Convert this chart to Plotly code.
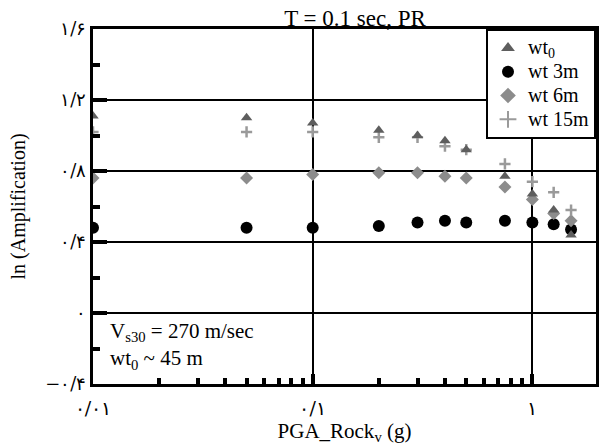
import plotly.graph_objects as go

# ---- data ----
pga = [0.01, 0.05, 0.1, 0.2, 0.3, 0.4, 0.5, 0.75, 1.0, 1.25, 1.5]
wt0 = [1.11, 1.10, 1.07, 1.03, 1.00, 0.97, 0.92, 0.77, 0.67, 0.58, 0.44]
wt3 = [0.48, 0.48, 0.48, 0.49, 0.51, 0.52, 0.51, 0.52, 0.51, 0.50, 0.47]
wt6 = [0.76, 0.76, 0.78, 0.79, 0.79, 0.77, 0.76, 0.71, 0.64, 0.56, 0.52]
wt15 = [1.02, 1.02, 1.02, 0.99, 0.99, 0.94, 0.92, 0.84, 0.74, 0.68, 0.58]

x_tickvals = [0.01, 0.1, 1]
x_ticktext = ["۰/۰۱", "۰/۱", "۱"]
x_minor = [0.02, 0.03, 0.04, 0.05, 0.06, 0.07, 0.08, 0.09,
           0.2, 0.3, 0.4, 0.5, 0.6, 0.7, 0.8, 0.9, 2]
y_tickvals = [-0.4, 0, 0.4, 0.8, 1.2, 1.6]
y_ticktext = ["−۰/۴", "۰", "۰/۴", "۰/۸", "۱/۲", "۱/۶"]
y_minor = [-0.2, 0.2, 0.6, 1.0, 1.4]

FONT = "Liberation Serif, Times New Roman, serif"


def big(s):
    return '<span style="font-size:20px">' + s + '</span>'


fig = go.Figure()
fig.add_trace(go.Scatter(x=pga, y=wt3, mode="markers", name=big("wt 3m"),
                         marker=dict(symbol="circle", size=12, color="black")))
fig.add_trace(go.Scatter(x=pga, y=wt6, mode="markers", name=big("wt 6m"),
                         marker=dict(symbol="diamond", size=10, color="#8c8c8c")))
fig.add_trace(go.Scatter(x=pga, y=wt15, mode="markers", name=big("wt 15m"),
                         marker=dict(symbol="cross-thin", size=8, color="#9a9a9a",
                                     line=dict(width=2.5, color="#9a9a9a"))))
fig.add_trace(go.Scatter(x=pga, y=wt0, mode="markers", name=big("wt<sub>0</sub>"),
                         marker=dict(symbol="triangle-up", size=10, color="#5e5e5e")))

fig.update_layout(
    width=599, height=445,
    margin=dict(l=93, r=0, t=29, b=61),
    paper_bgcolor="white", plot_bgcolor="white",
    font=dict(family=FONT, size=20, color="black"),
    title=dict(text="T = 0.1 sec, PR", x=355 / 599, xanchor="center",
               y=1 - 18 / 445, yanchor="middle", font=dict(size=23)),
    showlegend=True,
    legend=dict(x=1, xanchor="right", y=1, yanchor="top",
                bgcolor="white", bordercolor="black", borderwidth=2,
                font=dict(size=16), traceorder="normal",
                itemsizing="constant", tracegroupgap=0,
                itemwidth=30),
)

fig.update_xaxes(
    type="log", range=[-2, 0.2896],
    tickvals=x_tickvals, ticktext=x_ticktext,
    ticks="inside", ticklen=10, tickwidth=4, tickcolor="black",
    ticklabelstandoff=5,
    showgrid=True, gridcolor="black", gridwidth=2,
    showline=True, linecolor="black", linewidth=3, mirror=True,
    tickfont=dict(size=19, family="DejaVu Serif, serif"),
    title=dict(text="PGA_Rock<sub>v</sub> (g)", font=dict(size=21), standoff=8),
    minor=dict(tickvals=x_minor, ticks="inside", ticklen=6, tickwidth=4,
               tickcolor="black", showgrid=False),
    zeroline=False,
)
fig.update_yaxes(
    range=[-0.4, 1.6],
    tickvals=y_tickvals, ticktext=y_ticktext,
    ticks="inside", ticklen=14, tickwidth=4, tickcolor="black",
    showgrid=True, gridcolor="black", gridwidth=2,
    showline=True, linecolor="black", linewidth=3, mirror=True,
    tickfont=dict(size=18, family="DejaVu Serif, serif"),
    title=dict(text="ln (Amplification)", font=dict(size=20), standoff=15),
    minor=dict(tickvals=y_minor, ticks="inside", ticklen=7, tickwidth=4,
               tickcolor="black", showgrid=False),
    zeroline=False,
)

# legend display order: wt0, wt3m, wt6m, wt15m
for tr, rank in zip(fig.data, [2, 3, 4, 1]):
    tr.legendrank = rank

fig.add_annotation(
    text="V<sub>s30</sub> = 270 m/sec<br>wt<sub>0</sub> ~ 45 m",
    xref="paper", yref="paper", x=0.03, y=0.107, xanchor="left", yanchor="middle",
    align="left", showarrow=False, font=dict(size=21),
)

fig.write_html("out.html")
